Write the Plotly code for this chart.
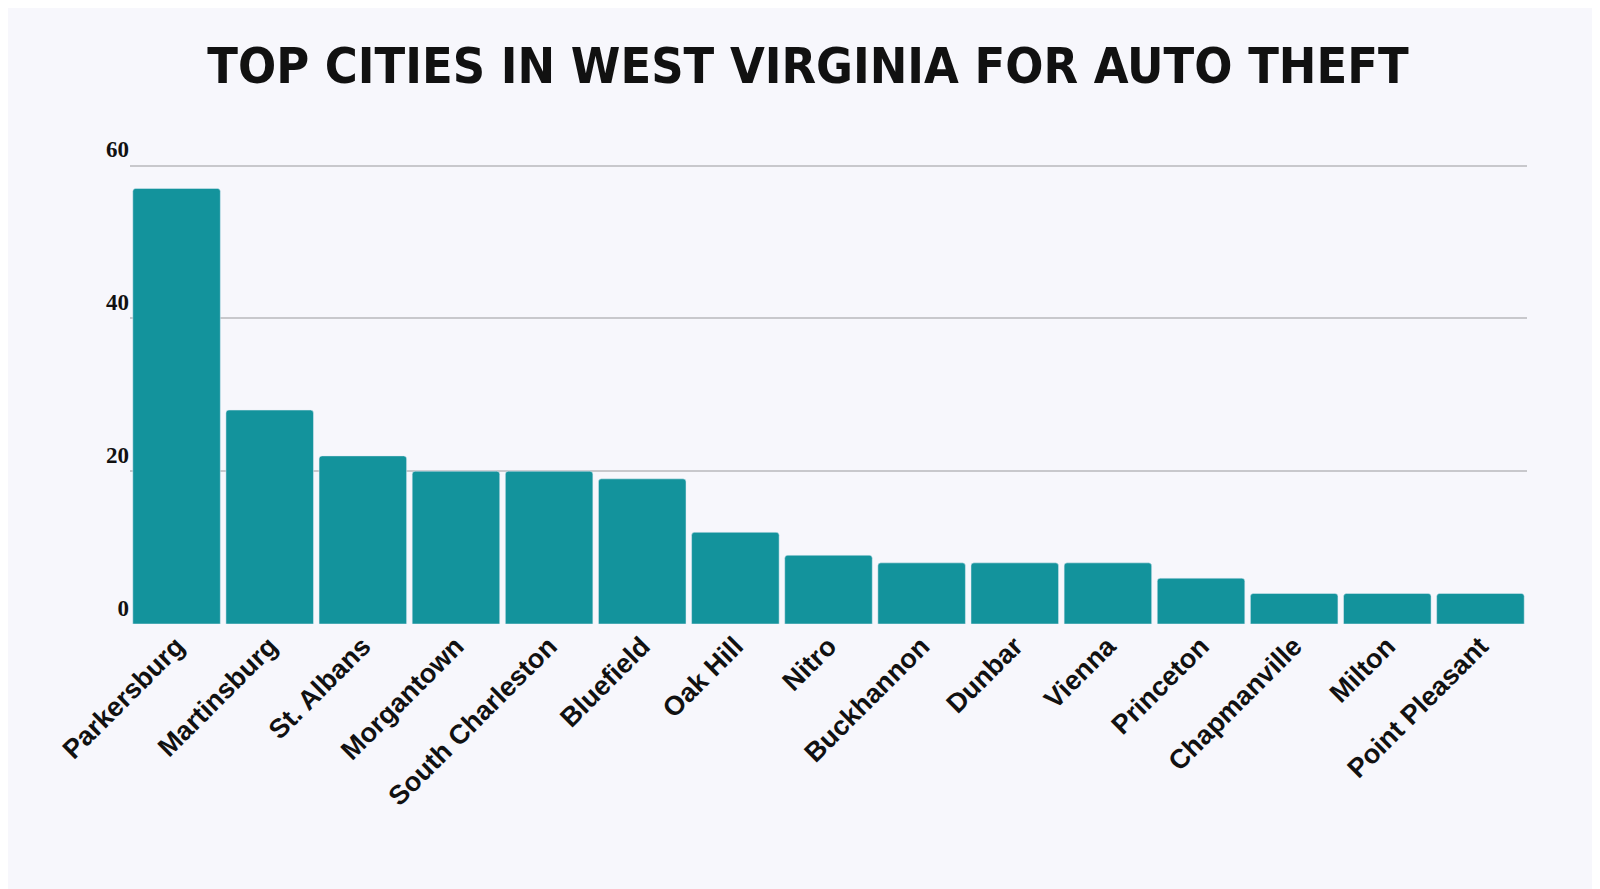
import plotly.graph_objects as go

cities = ["Parkersburg", "Martinsburg", "St. Albans", "Morgantown", "South Charleston",
          "Bluefield", "Oak Hill", "Nitro", "Buckhannon", "Dunbar", "Vienna",
          "Princeton", "Chapmanville", "Milton", "Point Pleasant"]
thefts = [57, 28, 22, 20, 20, 19, 12, 9, 8, 8, 8, 6, 4, 4, 4]
y_ticks = [0, 20, 40, 60]

bg = "#f7f7fc"
bar_color = "#13939c"

fig = go.Figure(go.Bar(x=cities, y=thefts, marker=dict(color=bar_color, cornerradius=3)))

fig.update_layout(
    width=1600, height=889,
    paper_bgcolor=bg, plot_bgcolor=bg,
    bargap=0.06,
    margin=dict(l=122, r=81, t=156, b=273),
    title=dict(text="<b>TOP CITIES IN WEST VIRGINIA FOR AUTO THEFT</b>",
               x=0.5, xanchor="center", y=0.935, yanchor="middle",
               font=dict(family="DejaVu Sans Condensed", size=50, color="#111")),
    showlegend=False,
)
fig.update_xaxes(tickangle=-45, tickfont=dict(family="Liberation Sans", size=27, color="#111", weight="bold"),
                 showgrid=False, showline=False, ticks="")
fig.update_yaxes(range=[0, 60.2], tickvals=y_ticks, ticklabelposition="outside top",
                 tickfont=dict(family="Liberation Serif", size=23, color="#111", weight="bold"),
                 showgrid=True, gridcolor="#c8c8cc", gridwidth=1.5, zeroline=False, ticks="")

fig.write_html("out.html")
